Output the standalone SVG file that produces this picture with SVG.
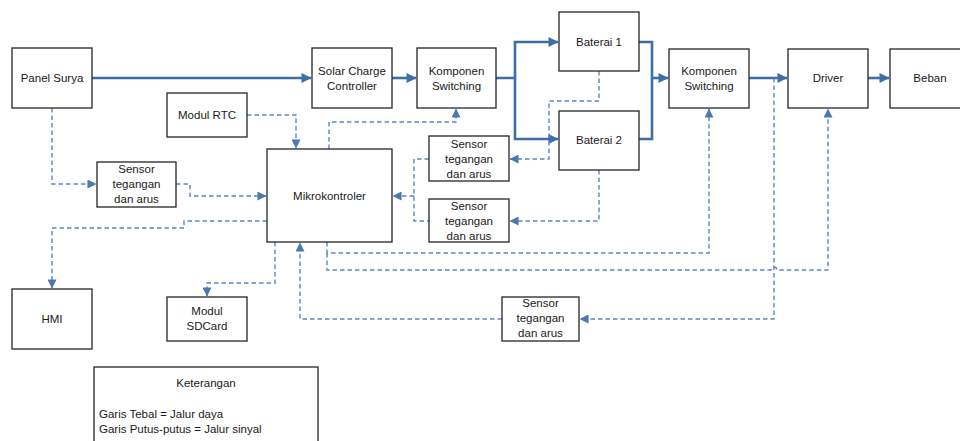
<svg xmlns="http://www.w3.org/2000/svg" width="960" height="441" viewBox="0 0 960 441">
<defs>
<style>
.box{fill:#fff;stroke:#262626;stroke-width:1.3}
.t{font-family:"Liberation Sans",Arial,sans-serif;font-size:11.5px;fill:#1a1a1a;text-anchor:middle}
.tl{font-family:"Liberation Sans",Arial,sans-serif;font-size:11.5px;fill:#1a1a1a}
.pw{fill:none;stroke:#3E6EA6;stroke-width:2.6}
.sg{fill:none;stroke:#5B88BF;stroke-width:1.4;stroke-dasharray:4.5,3}
</style>
<marker id="ap" viewBox="0 0 10 10" refX="9.5" refY="5" markerWidth="11" markerHeight="10" markerUnits="userSpaceOnUse" orient="auto"><path d="M0,0 L10,5 L0,10 z" fill="#3E6EA6"/></marker>
<marker id="as" viewBox="0 0 10 10" refX="9.5" refY="5" markerWidth="9" markerHeight="9" markerUnits="userSpaceOnUse" orient="auto"><path d="M0,0 L10,5 L0,10 z" fill="#4A78B0"/></marker>
</defs>
<rect width="960" height="441" fill="#fff"/>

<g id="connectors">
<path class="pw" d="M92,78 H311" marker-end="url(#ap)"/>
<path class="pw" d="M392,78 H416" marker-end="url(#ap)"/>
<path class="pw" d="M496,78 H515 V42 H558" marker-end="url(#ap)"/>
<path class="pw" d="M515,78 V139 H558" marker-end="url(#ap)"/>
<path class="pw" d="M639,42 H652 V139 H639"/>
<path class="pw" d="M652,78 H668" marker-end="url(#ap)"/>
<path class="pw" d="M749,78 H787" marker-end="url(#ap)"/>
<path class="pw" d="M868,78 H889" marker-end="url(#ap)"/>

<path class="sg" d="M52,108 V184 H96" marker-end="url(#as)"/>
<path class="sg" d="M176,184 H190 V196 H266" marker-end="url(#as)"/>
<path class="sg" d="M247,115 H296 V148" marker-end="url(#as)"/>
<path class="sg" d="M329,149 V122 H456 V109" marker-end="url(#as)"/>
<path class="sg" d="M599,71 V101 H549 V159 H510" marker-end="url(#as)"/>
<path class="sg" d="M599,170 V221 H510" marker-end="url(#as)"/>
<path class="sg" d="M429,159 H414 V221 H429"/>
<path class="sg" d="M414,196 H393" marker-end="url(#as)"/>
<path class="sg" d="M327,242 V253 H709 V109" marker-end="url(#as)"/>
<path class="sg" d="M327,253 V270 H771 a3,3 0 0 1 6,0 H828 V109" marker-end="url(#as)"/>
<path class="sg" d="M774,78 V319 H580" marker-end="url(#as)"/>
<path class="sg" d="M502,319 H300 V243" marker-end="url(#as)"/>
<path class="sg" d="M267,221 H184 V228 H52 V288" marker-end="url(#as)"/>
<path class="sg" d="M275,242 V283 H207 V296" marker-end="url(#as)"/>
</g>

<g id="panel-surya"><rect class="box" x="12" y="48" width="80" height="60"/><text class="t" x="52" y="82">Panel Surya</text></g>
<g id="modul-rtc"><rect class="box" x="167" y="93" width="80" height="44"/><text class="t" x="207" y="119">Modul RTC</text></g>
<g id="sensor-1"><rect class="box" x="97" y="162" width="79" height="45"/><text class="t" x="136.5" y="173">Sensor</text><text class="t" x="136.5" y="188">tegangan</text><text class="t" x="136.5" y="203">dan arus</text></g>
<g id="mikrokontroler"><rect class="box" x="267" y="149" width="125" height="93"/><text class="t" x="329.5" y="200">Mikrokontroler</text></g>
<g id="solar-charge-controller"><rect class="box" x="312" y="48" width="80" height="60"/><text class="t" x="352" y="75">Solar Charge</text><text class="t" x="352" y="90">Controller</text></g>
<g id="komponen-switching-1"><rect class="box" x="417" y="48" width="79" height="60"/><text class="t" x="456.5" y="75">Komponen</text><text class="t" x="456.5" y="90">Switching</text></g>
<g id="baterai-1"><rect class="box" x="559" y="12" width="80" height="59"/><text class="t" x="599" y="46">Baterai 1</text></g>
<g id="baterai-2"><rect class="box" x="559" y="111" width="80" height="59"/><text class="t" x="599" y="144">Baterai 2</text></g>
<g id="sensor-2"><rect class="box" x="429" y="136" width="80" height="45"/><text class="t" x="469" y="148">Sensor</text><text class="t" x="469" y="163">tegangan</text><text class="t" x="469" y="178">dan arus</text></g>
<g id="sensor-3"><rect class="box" x="429" y="199" width="80" height="43"/><text class="t" x="469" y="210">Sensor</text><text class="t" x="469" y="225">tegangan</text><text class="t" x="469" y="240">dan arus</text></g>
<g id="komponen-switching-2"><rect class="box" x="669" y="49" width="80" height="59"/><text class="t" x="709" y="75">Komponen</text><text class="t" x="709" y="90">Switching</text></g>
<g id="driver"><rect class="box" x="788" y="49" width="80" height="59"/><text class="t" x="828" y="82">Driver</text></g>
<g id="beban"><rect class="box" x="890" y="49" width="80" height="59"/><text class="t" x="930" y="82">Beban</text></g>
<g id="hmi"><rect class="box" x="12" y="289" width="80" height="60"/><text class="t" x="52" y="323">HMI</text></g>
<g id="modul-sdcard"><rect class="box" x="167" y="297" width="80" height="44"/><text class="t" x="207" y="315">Modul</text><text class="t" x="207" y="330">SDCard</text></g>
<g id="sensor-4"><rect class="box" x="502" y="297" width="77" height="44"/><text class="t" x="540.5" y="307">Sensor</text><text class="t" x="540.5" y="322">tegangan</text><text class="t" x="540.5" y="337">dan arus</text></g>
<g id="keterangan"><rect class="box" x="94" y="367" width="224" height="80"/><text class="t" x="206" y="387">Keterangan</text><text class="tl" x="99" y="418">Garis Tebal = Jalur daya</text><text class="tl" x="99" y="433">Garis Putus-putus = Jalur sinyal</text></g>
</svg>
